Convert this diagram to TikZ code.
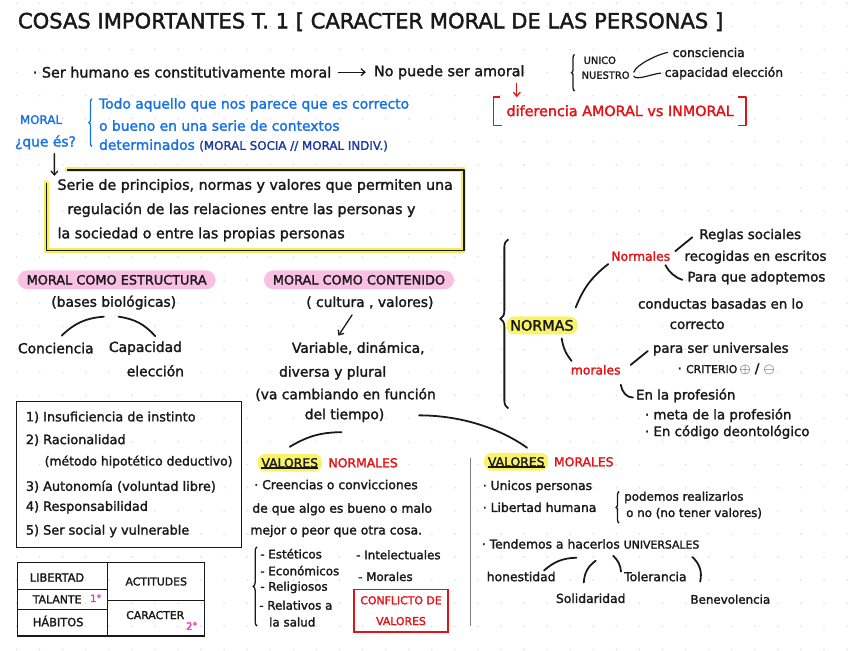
\documentclass[tikz,border=0pt]{standalone}
\usepackage{fontspec}
\setmainfont{DejaVu Sans}[FakeBold=1.8]
\usetikzlibrary{positioning,decorations.pathreplacing,arrows.meta,calc,fit}

\definecolor{ink}{RGB}{25,25,25}
\definecolor{penblue}{RGB}{25,115,230}
\definecolor{navy}{RGB}{30,60,160}
\definecolor{penred}{RGB}{228,18,22}
\definecolor{penmag}{RGB}{250,30,200}
\definecolor{pinkhl}{RGB}{250,192,228}
\definecolor{yelhl}{RGB}{250,243,105}
\definecolor{glow}{RGB}{246,238,80}
\definecolor{dotc}{RGB}{222,222,222}
\definecolor{rulec}{RGB}{125,125,125}

\begin{document}
\begin{tikzpicture}[x=1pt, y=-1pt,
  hand/.style={anchor=west, inner sep=0pt, text=ink, font=\fontsize{14}{16}\selectfont},
  handm/.style={hand, font=\fontsize{13.5}{16}\selectfont},
  hands/.style={hand, font=\fontsize{12.5}{15}\selectfont},
  handxs/.style={hand, font=\fontsize{12}{14}\selectfont},
  capsf/.style={hand, font=\fontsize{11.5}{13}\selectfont},
  bluetxt/.style={hand, text=penblue},
  redtxt/.style={hand, text=penred, font=\fontsize{12.5}{15}\selectfont},
  pill/.style={fill=pinkhl, rounded corners=9.5pt, inner xsep=9pt, inner ysep=0pt,
               minimum height=19pt, text=ink, font=\fontsize{13}{15}\selectfont},
  hl/.style={fill=yelhl, rounded corners=8pt, inner xsep=4pt, inner ysep=0pt,
             minimum height=18pt, text=ink},
  stroke/.style={draw=ink, line width=1.8pt, line cap=round},
  thinline/.style={draw=ink, line width=1.3pt},
  arr/.style={draw=ink, line width=1.3pt, line cap=round,
              -{Straight Barb[length=4pt,width=7pt]}},
  brc/.style={decorate, decoration={brace, amplitude=#1}, draw=ink, line width=1.3pt},
]
  % paper
  \fill[white] (0,0) rectangle (848,656);
  \foreach \i in {0,...,36} {
    \foreach \j in {0,...,28} {
      \fill[dotc] ({16.7+23.33*\i},{3.3+23.33*\j}) circle (0.9pt);
    }
  }

  % title
  \node[hand, font=\fontsize{21.3}{24}\selectfont] (title) at (18,22)
    {COSAS IMPORTANTES T. 1 [ CARACTER MORAL DE LAS PERSONAS ]};

  % first idea
  \node[hand, font=\fontsize{14.5}{16}\selectfont] (ser) at (33,73) {· Ser humano es constitutivamente moral};
  \node[hand, font=\fontsize{14.5}{16}\selectfont] (nop) at (378,73) {No puede ser amoral};
  \draw[arr] ([xshift=7pt]ser.east) -- ([xshift=-8pt]nop.west);
  \draw[brc=3pt] (581,92) -- (581,55);
  \node[hand, font=\fontsize{10}{12}\selectfont] (unico) at (590,61) {UNICO};
  \node[hand, font=\fontsize{10}{12}\selectfont] (nuestro) at (588,76) {NUESTRO};
  \node[hand, font=\fontsize{12.5}{14}\selectfont] (consc) at (680,53) {consciencia};
  \node[hand, font=\fontsize{12.5}{14}\selectfont] (capel) at (672,74) {capacidad elección};
  \draw[stroke, line width=1.2pt] ([shift={(4,-3)}]nuestro.east) .. controls +(3,-8) and +(-10,2) .. ([xshift=-5pt]consc.west);
  \draw[stroke, line width=1.2pt] ([shift={(4,1)}]nuestro.east) .. controls +(2,5) and +(-6,0) .. ([xshift=-4pt]capel.west);

  % amoral vs inmoral
  \node[hand, text=penred, font=\fontsize{14.5}{16}\selectfont] (dif) at (512,112) {diferencia AMORAL vs INMORAL};
  \draw[penred, line width=1.6pt, line join=round]
    ([shift={(-6,-14)}]dif.west) -- ([shift={(-13,-14)}]dif.west)
    -- ([shift={(-13,15)}]dif.west) -- ([shift={(-4,15)}]dif.west);
  \draw[penred, line width=1.6pt, line join=round]
    ([shift={(4,-14)}]dif.east) -- ([shift={(12,-14)}]dif.east)
    -- ([shift={(12,15)}]dif.east) -- ([shift={(4,15)}]dif.east);
  \draw[arr, draw=penred] ([shift={(-8,4)}]nop.south east) -- ($(nop.south east |- dif.north)+(-8,-8)$);

  % moral: que es
  \node[bluetxt, font=\fontsize{12}{14}\selectfont] (moral) at (20,121) {MORAL};
  \node[bluetxt] (quees) at (15,144) {¿que és?};
  \draw[brc=3pt, draw=penblue] (93,148) -- (93,100);
  \node[bluetxt] (def1) at (100,106) {Todo aquello que nos parece que es correcto};
  \node[bluetxt] (def2) at (100,127) {o bueno en una serie de contextos};
  \node[bluetxt] (def3) at (100,147) {determinados {\color{navy}\fontsize{12}{14}\selectfont(MORAL SOCIA // MORAL INDIV.)}};

  \node[hand, align=left, inner xsep=11pt, inner ysep=9pt, font=\fontsize{14.4}{24.5}\selectfont] (serie) at (47,212.5)
    {Serie de principios, normas y valores que permiten una\\
     \hspace*{10pt}regulación de las relaciones entre las personas y\\
     la sociedad o entre las propias personas};
  \draw[glow, line width=5pt, line join=round, line cap=round]
    ([xshift=21pt]serie.north west) -- (serie.north east) -- (serie.south east)
    -- (serie.south west) -- ([yshift=-13pt]serie.north west);
  \draw[thinline, line join=round]
    ([xshift=21pt]serie.north west) -- (serie.north east) -- (serie.south east)
    -- (serie.south west) -- ([yshift=-13pt]serie.north west);
  \draw[arr] ([shift={(9,4)}]quees.south) -- ([shift={(8,6)}]serie.north west);

  % moral como estructura
  \node[pill] (estr) at (118,283) {MORAL COMO ESTRUCTURA};
  \node[hand, anchor=center] (bases) at (115,306) {(bases biológicas)};
  \node[hand] (conc) at (18,352) {Conciencia};
  \node[hand] (capac) at (110,352) {Capacidad};
  \node[hand] (elec) at (128,375) {elección};
  \draw[stroke] ([shift={(-10,7)}]bases.south) to[bend right=20] ([shift={(6,-7)}]conc.north);
  \draw[stroke] ([shift={(5,7)}]bases.south) to[bend left=20] ([shift={(10,-5)}]capac.north);

  % moral como contenido
  \node[pill] (cont) at (363,283) {MORAL COMO CONTENIDO};
  \node[hand, anchor=center] (cult) at (374,306) {( cultura , valores)};
  \node[hand] (var) at (295,352) {Variable, dinámica,};
  \node[hand] (div) at (282,377) {diversa y plural};
  \node[hand] (camb) at (258,399) {(va cambiando en función};
  \node[hand] (tiem) at (308,420) {del tiempo)};
  \draw[arr] ([shift={(-18,6)}]cult.south) -- ([shift={(-20,-6)}]var.north);

  % normas
  \draw[brc=8pt, decoration={aspect=0.53}, line width=1.8pt] (514,413) -- (514,242);
  \node[hl, font=\fontsize{14.5}{16}\selectfont] (norm) at (548,329) {NORMAS};
  \node[redtxt] (nmles) at (618,259) {Normales};
  \node[redtxt] (mles) at (577,374) {morales};
  \node[handm] (regl) at (707,238) {Reglas sociales};
  \node[handm] (recog) at (692,260) {recogidas en escritos};
  \node[handm] (para) at (695,281) {Para que adoptemos};
  \node[handm] (cond) at (645,307) {conductas basadas en lo};
  \node[handm] (corr) at (677,328) {correcto};
  \node[handm] (univ) at (660,353) {para ser universales};
  \node[handm] (crit) at (685,373) {· {\fontsize{11}{13}\selectfont CRITERIO}\,$\oplus$ / $\ominus$};
  \node[handm] (prof) at (643,400) {En la profesión};
  \node[handm] (meta) at (652,420) {· meta de la profesión};
  \node[handm] (deon) at (652,437) {· En código deontológico};
  \draw[stroke] ([shift={(-2,-9)}]norm.north east) to[bend left=15] ([shift={(-3,3)}]nmles.south west);
  \draw[stroke] ([shift={(20,4)}]norm.south) to[bend right=15] ([shift={(1,-4)}]mles.north west);
  \draw[stroke] ([xshift=5pt]nmles.north east) -- ([shift={(-7,2)}]regl.west);
  \draw[stroke] ([shift={(-5,4)}]nmles.south east) to[bend right=20] ([shift={(-5,2)}]para.west);
  \draw[stroke] ([shift={(10,-5)}]mles.east) -- ([shift={(-5,2)}]univ.west);
  \draw[stroke] ([shift={(0,10)}]mles.south east) to[out=-80, in=180] ([shift={(-3,2)}]prof.west);

  % rasgos
  \node[hand, font=\fontsize{13}{15}\selectfont] (l1) at (26,422) {1) Insuficiencia de instinto};
  \node[hand, font=\fontsize{13}{15}\selectfont] (l2) at (26,445) {2) Racionalidad};
  \node[hand, font=\fontsize{12.5}{15}\selectfont] (l3) at (45,467) {(método hipotético deductivo)};
  \node[hand, font=\fontsize{13}{15}\selectfont] (l4) at (26,492) {3) Autonomía (voluntad libre)};
  \node[hand, font=\fontsize{13}{15}\selectfont] (l5) at (26,513) {4) Responsabilidad};
  \node[hand, font=\fontsize{13}{15}\selectfont] (l6) at (26,537) {5) Ser social y vulnerable};
  \node[draw=ink, line width=1.3pt, inner xsep=9pt, inner ysep=10pt, fit=(l1)(l3)(l6)] (rasgos) {};

  % tabla
  \draw[thinline] (18,569) rectangle (207,643);
  \draw[thinline] (109,569) -- (109,643) (18,596) -- (109,596)
    (18,616) -- (109,616) (109,607) -- (207,607);
  \node[capsf] (lib) at (30,584) {LIBERTAD};
  \node[hand, font=\fontsize{11}{13}\selectfont] (tal) at (33,606) {TALANTE};
  \node[capsf] (hab) at (33,628) {HÁBITOS};
  \node[hand, anchor=center, font=\fontsize{11}{13}\selectfont] (act) at (158,588) {ACTITUDES};
  \node[hand, anchor=center, font=\fontsize{11}{13}\selectfont] (car) at (157,622) {CARACTER};
  \node[hand, text=penmag, font=\fontsize{10}{12}\selectfont] (ord1) at (91,605) {1°};
  \node[hand, text=penmag, font=\fontsize{10}{12}\selectfont] (ord2) at (188,633) {2°};

  % del tiempo -> valores
  \node[hl, font=\fontsize{12.5}{15}\selectfont] (vn) at (293,468) {VALORES};
  \node[redtxt] (nrm) at (332,468) {NORMALES};
  \node[hl, font=\fontsize{12.5}{15}\selectfont] (vm) at (522,467) {VALORES};
  \node[redtxt] (mrl) at (560,467) {MORALES};
  \draw[thinline, line width=1.2pt] ([shift={(4,-4)}]vn.south west) -- ([shift={(-4,-4)}]vn.south east);
  \draw[thinline, line width=1.2pt] ([shift={(4,-4)}]vm.south west) -- ([shift={(-4,-4)}]vm.south east);
  \draw[stroke] ([shift={(-3,10)}]tiem.south) to[bend right=15] ([yshift=7pt]vn.north);
  \draw[stroke] ([xshift=35pt]tiem.east) .. controls +(45,0) and +(-25,-18) .. ([shift={(11,-5)}]vm.north);

  % valores normales
  \node[hands] (cre) at (257,490) {· Creencias o convicciones};
  \node[hands] (algo) at (255,515) {de que algo es bueno o malo};
  \node[hands] (mej) at (253,537) {mejor o peor que otra cosa.};
  \draw[brc=4pt] (260,633) -- (260,553);
  \node[handxs] (est) at (263,560) {- Estéticos};
  \node[handxs] (eco) at (263,577) {- Económicos};
  \node[handxs] (rel) at (263,594) {- Religiosos};
  \node[handxs] (rela) at (262,612) {- Relativos a};
  \node[handxs] (sal) at (272,629) {la salud};
  \node[handxs] (int) at (360,561) {- Intelectuales};
  \node[handxs] (mor) at (362,583) {- Morales};
  \node[draw=penred, line width=1.2pt, text=penred, align=center, inner sep=0pt,
        minimum width=95pt, minimum height=43pt, font=\fontsize{11}{21}\selectfont]
    (confl) at (405.5,617.5) {CONFLICTO DE\\VALORES};

  \draw[rulec, line width=1.5pt] (476,463) -- (476,633);

  % valores morales
  \node[hands] (unic) at (488,492) {· Unicos personas};
  \node[hands] (libh) at (488,513) {· Libertad humana};
  \draw[brc=3pt] (626,529) -- (626,497);
  \node[handxs] (pod) at (631,503) {podemos realizarlos};
  \node[handxs] (ten) at (633,519) {o no (no tener valores)};
  \node[hands] (tend) at (487,550) {· Tendemos a hacerlos {\fontsize{11}{13}\selectfont UNIVERSALES}};
  \node[hands] (hon) at (492,583) {honestidad};
  \node[hands] (tol) at (631,583) {Tolerancia};
  \node[hands] (sol) at (562,605) {Solidaridad};
  \node[handxs] (ben) at (698,606) {Benevolencia};
  \draw[stroke] ([shift={(-12,-1)}]hon.north east) to[bend left=20] ([shift={(21,-14)}]hon.north east);
  \draw[stroke] ([shift={(5,-33)}]sol.north) to[bend right=25] ([shift={(-7,-11)}]sol.north);
  \draw[stroke] ([shift={(-11,-21)}]tol.west) to[bend left=20] ([shift={(-3,-5)}]tol.west);
  \draw[stroke] ([shift={(2,-38)}]ben.north west) to[bend left=30] ([shift={(10,-13)}]ben.north west);
\end{tikzpicture}
\end{document}
